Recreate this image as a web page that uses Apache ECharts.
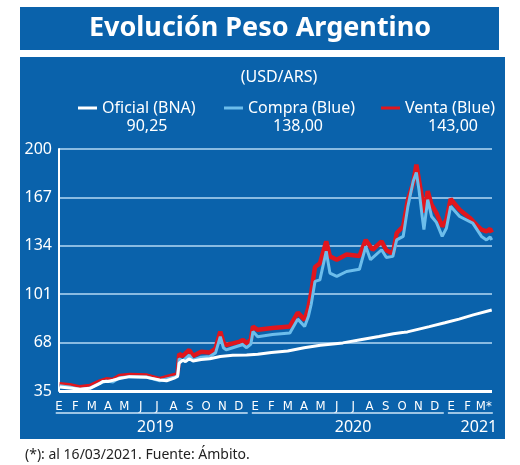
<!DOCTYPE html>
<html><head><meta charset="utf-8">
<script src="https://cdn.jsdelivr.net/npm/echarts@6/dist/echarts.min.js"></script>
<style>html,body{margin:0;padding:0;background:#fff}#c{width:520px;height:465px}</style>
</head><body><div id="c"></div>
<script>
const monthLabels = ['E','F','M','A','M','J','J','A','S','O','N','D','E','F','M','A','M','J','J','A','S','O','N','D','E','F','M*'];
const yearLabels = ['2019','2020','2021'];
const yearStartMonth = [0, 12, 24];
const yearEndMonth = [11, 23, 26];
const yTicks = [35, 68, 101, 134, 167, 200];
const seriesNames = ['Oficial (BNA)', 'Compra (Blue)', 'Venta (Blue)'];
const legendValues = ['90,25', '138,00', '143,00'];

const ventaDates = ['2019-01-02','2019-01-21','2019-02-09','2019-02-26','2019-03-16','2019-03-29','2019-04-10','2019-04-22','2019-05-11','2019-06-12','2019-07-06','2019-07-19','2019-08-04','2019-08-09','2019-08-12','2019-08-19','2019-08-31','2019-09-07','2019-09-22','2019-10-08','2019-10-19','2019-10-28','2019-11-03','2019-11-08','2019-11-20','2019-12-03','2019-12-09','2019-12-16','2019-12-24','2019-12-28','2020-01-06','2020-02-03','2020-03-05','2020-03-20','2020-04-02','2020-04-09','2020-04-14','2020-04-21','2020-04-30','2020-05-12','2020-05-19','2020-06-01','2020-06-19','2020-07-13','2020-07-25','2020-08-07','2020-08-24','2020-09-02','2020-09-14','2020-09-21','2020-10-03','2020-10-12','2020-10-22','2020-10-28','2020-11-07','2020-11-11','2020-11-18','2020-11-25','2020-12-04','2020-12-15','2020-12-23','2020-12-31','2021-01-17','2021-02-05','2021-02-19','2021-02-25','2021-03-06','2021-03-13','2021-03-16'];
const ventaValues = [39.6,39,37.5,38.4,41.4,43,42.5,45.2,45.9,45.5,43,44.4,45.9,46.5,60.3,58.9,63,58.9,61.8,61.2,64,75.5,68,66.4,67.5,68.7,69.8,67.6,70,79,76.7,78,79,88.5,83.5,92,102,119.5,122,137,126.8,124.5,128,127,138,131.3,137,131,128.6,142.7,147.2,165.5,176.9,189.4,167.7,156.6,171.3,162,156.4,147.2,151.8,166,158.6,153,147.2,145,143.8,145.5,143];

const compraDates = ['2019-01-02','2019-01-21','2019-02-09','2019-02-26','2019-03-16','2019-03-29','2019-04-10','2019-04-22','2019-05-11','2019-06-12','2019-07-06','2019-07-19','2019-08-04','2019-08-09','2019-08-12','2019-08-19','2019-08-31','2019-09-07','2019-09-22','2019-10-08','2019-10-19','2019-10-28','2019-11-03','2019-11-08','2019-11-20','2019-12-03','2019-12-09','2019-12-16','2019-12-24','2019-12-28','2020-01-06','2020-02-03','2020-03-05','2020-03-20','2020-04-02','2020-04-09','2020-04-14','2020-04-21','2020-04-30','2020-05-12','2020-05-19','2020-06-01','2020-06-19','2020-07-13','2020-07-25','2020-08-03','2020-08-24','2020-09-02','2020-09-14','2020-09-21','2020-10-03','2020-10-12','2020-10-22','2020-10-28','2020-11-02','2020-11-07','2020-11-11','2020-11-18','2020-11-25','2020-12-04','2020-12-15','2020-12-23','2020-12-31','2021-01-17','2021-02-10','2021-02-25','2021-03-06','2021-03-13','2021-03-16'];
const compraValues = [38.5,37.8,36,37,40.3,41.8,41.2,44,44.8,44.5,42,43.2,44.6,45.2,57,55.5,59.5,56,58,58.5,61,72,64.5,63,64.5,66,66.5,64.5,67,75.5,72,73.5,74.5,84,79,86,94,109.7,110.8,130.2,115.4,113.1,116.5,118,133.6,124.5,131.3,126,126.8,138,140.4,160.9,178,184,172,156.4,145,165.5,154,150,140.4,146,160.9,154,149.5,140.4,138,140,138];

const oficialDates = ['2019-01-02','2019-01-21','2019-02-09','2019-02-26','2019-03-16','2019-03-22','2019-04-01','2019-04-10','2019-04-22','2019-05-11','2019-06-12','2019-07-06','2019-07-19','2019-08-04','2019-08-09','2019-08-12','2019-08-19','2019-08-24','2019-08-31','2019-09-07','2019-09-22','2019-10-08','2019-10-28','2019-11-20','2019-12-16','2020-01-06','2020-02-01','2020-03-01','2020-04-01','2020-05-01','2020-06-12','2020-07-15','2020-08-19','2020-09-15','2020-10-05','2020-10-08','2020-10-11','2020-11-21','2020-12-20','2021-01-16','2021-02-11','2021-03-16'];
const oficialValues = [37.7,37,36.2,36.8,40,41.5,41.5,42.3,43.5,44.8,44.3,42.5,42,44,45,54,56,55,57,55.5,56.5,57,58.5,59.3,59.6,60,61.2,62.3,64.5,66.2,67.8,70,72.2,74,75,76,75.3,78.9,81.5,84,86.9,90.25];

function monthIndex(s) {
  const [y, m, d] = s.split('-').map(Number);
  const dim = new Date(y, m, 0).getDate();
  return (y - 2019) * 12 + (m - 1) + (d - 1) / dim;
}
function pairs(dates, vals) { return dates.map((d, i) => [monthIndex(d), vals[i]]); }

const BLUE = '#0A62AB';
const RED = '#E0161D';
const LBLUE = '#6CBDEB';
const FONT = "'Noto Sans', 'Open Sans', sans-serif";
const NARROW = "'Liberation Sans Narrow', 'DejaVu Sans Condensed', sans-serif";

const chart = echarts.init(document.getElementById('c'), null, {renderer: 'canvas'});
const legendBase = {
  icon: 'rect', itemWidth: 19, itemHeight: 3, top: 95,
  textStyle: {color: '#fff', fontSize: 16, fontFamily: FONT}
};
const option = {
  animation: false,
  backgroundColor: '#fff',
  title: [
    {text: 'Evolución Peso Argentino', left: 'center', top: 10,
     textStyle: {color: '#fff', fontSize: 27, fontWeight: 'bold', fontFamily: FONT}},
    {text: '(USD/ARS)', left: 274, textAlign: 'center', top: 64,
     textStyle: {color: '#fff', fontSize: 16, fontWeight: 'normal', fontFamily: FONT}},
    {text: '(*): al 16/03/2021. Fuente: Ámbito.', left: 20, top: 443,
     textStyle: {color: '#222', fontSize: 14, fontWeight: 'normal', fontFamily: FONT}}
  ],
  legend: [
    Object.assign({}, legendBase, {data: [seriesNames[0]], left: 73}),
    Object.assign({}, legendBase, {data: [seriesNames[1]], left: 219}),
    Object.assign({}, legendBase, {data: [seriesNames[2]], left: 376})
  ],
  grid: {left: 59, right: 28, top: 149, bottom: 74},
  xAxis: {
    type: 'value', min: 0, max: 26.5, interval: 1,
    axisLine: {show: false},
    axisTick: {show: false},
    splitLine: {show: false},
    axisLabel: {
      color: '#fff', fontSize: 13, fontFamily: NARROW, margin: 9,
      showMaxLabel: false,
      formatter: v => (Number.isInteger(v) && monthLabels[v] !== undefined) ? monthLabels[v] : ''
    }
  },
  yAxis: {
    type: 'value', min: yTicks[0], max: yTicks[yTicks.length - 1], interval: yTicks[1] - yTicks[0],
    axisLine: {show: true, lineStyle: {color: '#fff', width: 2}},
    axisTick: {show: false},
    axisLabel: {color: '#fff', fontSize: 16, fontFamily: FONT, margin: 7},
    splitLine: {show: true, lineStyle: {color: '#B5DAF4', width: 1.5}}
  },
  series: [
    {name: seriesNames[2], type: 'line', data: pairs(ventaDates, ventaValues), showSymbol: false,
     lineStyle: {color: RED, width: 4.5}, itemStyle: {color: RED}, z: 2},
    {name: seriesNames[1], type: 'line', data: pairs(compraDates, compraValues), showSymbol: false,
     lineStyle: {color: LBLUE, width: 3}, itemStyle: {color: LBLUE}, z: 3},
    {name: seriesNames[0], type: 'line', data: pairs(oficialDates, oficialValues), showSymbol: false,
     lineStyle: {color: '#fff', width: 3}, itemStyle: {color: '#fff'}, z: 4,
     markLine: {silent: true, symbol: 'none', label: {show: false},
       lineStyle: {color: '#fff', width: 3, type: 'solid'}, data: [{yAxis: yTicks[0]}]}}
  ]
};
chart.setOption(option);

// layout elements derived from axes
const g = [
  {type: 'rect', shape: {x: 20, y: 7, width: 479, height: 43}, style: {fill: BLUE}, z: -10},
  {type: 'rect', shape: {x: 20, y: 57, width: 485, height: 382}, style: {fill: BLUE}, z: -10}
];
const yearLabelPos = [5.9, 18, 25.7];
yearLabels.forEach((yl, i) => {
  const p0 = chart.convertToPixel({gridIndex: 0}, [yearStartMonth[i] - 0.2, yTicks[0]]);
  const p1 = chart.convertToPixel({gridIndex: 0}, [yearEndMonth[i] + 0.55, yTicks[0]]);
  const pc = chart.convertToPixel({gridIndex: 0}, [yearLabelPos[i], yTicks[0]]);
  g.push({type: 'line', shape: {x1: p0[0], y1: p0[1] + 22, x2: p1[0], y2: p1[1] + 22},
          style: {stroke: '#CFE7F8', lineWidth: 1.5}, z: 5});
  g.push({type: 'text', x: pc[0], y: pc[1] + 36,
          style: {text: yl, fill: '#fff', font: '16px ' + FONT, align: 'center', verticalAlign: 'middle'}, z: 5});
});
const valX = [147, 298, 453];
legendValues.forEach((v, i) => {
  g.push({type: 'text', x: valX[i], y: 126,
          style: {text: v, fill: '#fff', font: '16px ' + FONT, align: 'center', verticalAlign: 'middle'}, z: 5});
});
chart.setOption({graphic: g});
</script>
</body></html>
